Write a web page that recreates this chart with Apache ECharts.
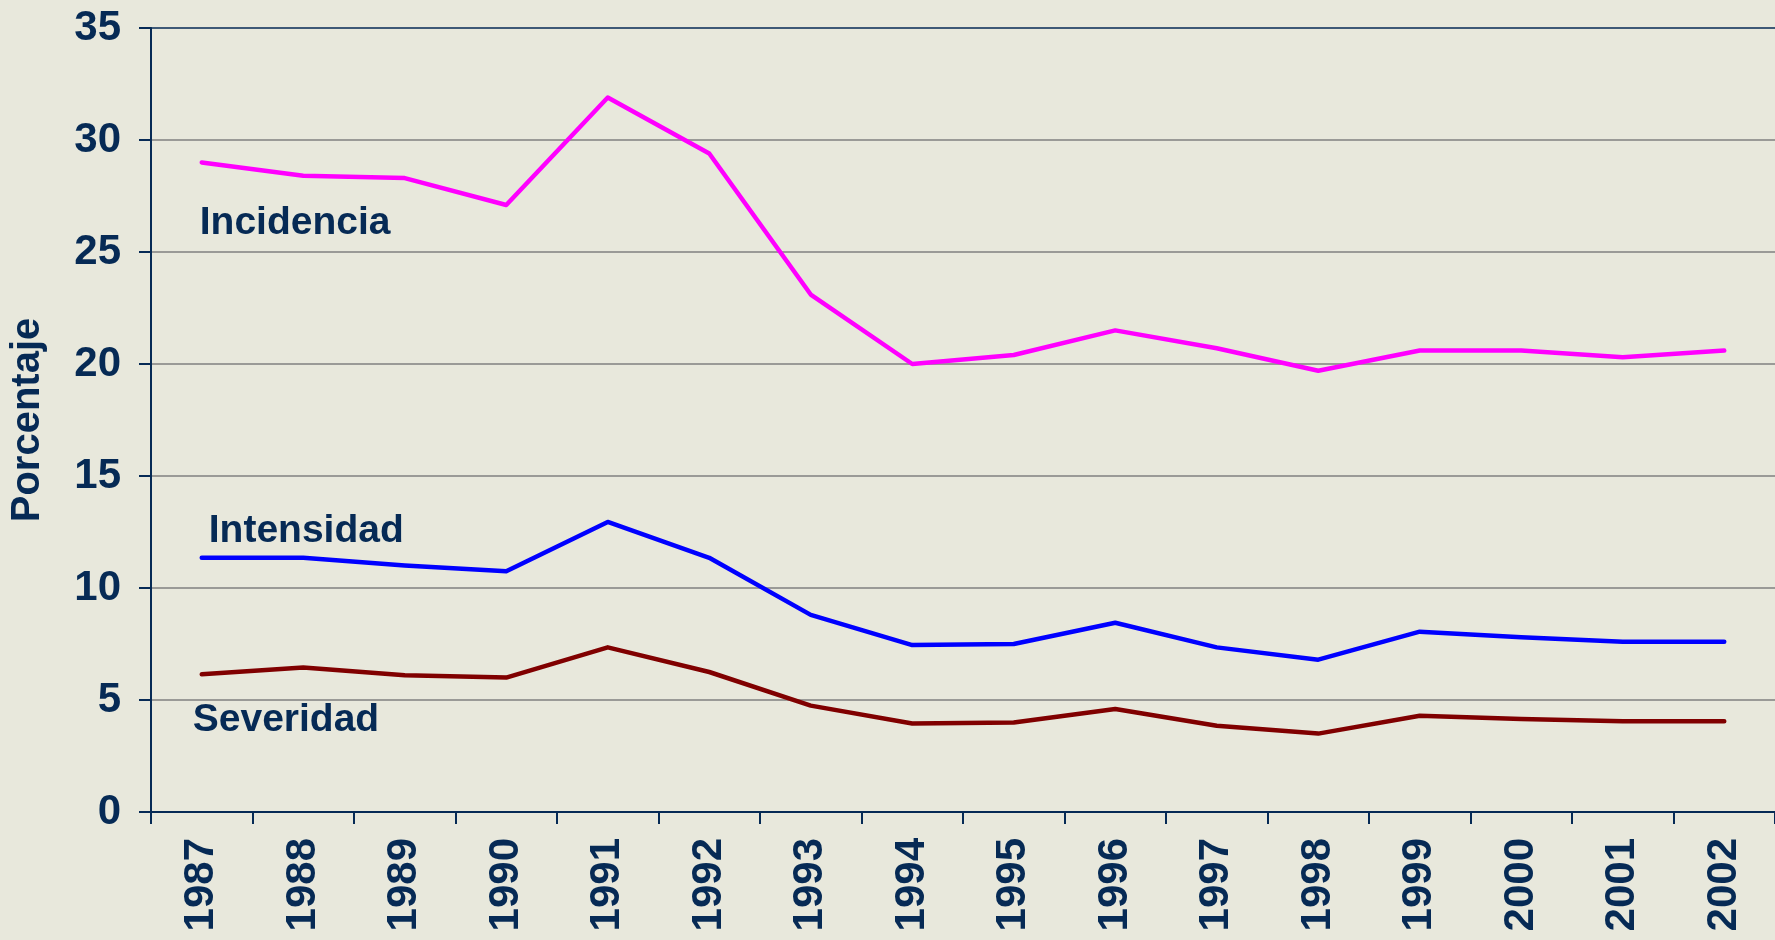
<!DOCTYPE html>
<html>
<head>
  <meta charset="utf-8">
  <script src="https://cdn.jsdelivr.net/npm/echarts@6/dist/echarts.min.js"></script>
  <style>
    html, body { margin: 0; padding: 0; background: #e8e8dc; }
  </style>
</head>
<body>
<div id="main" style="width: 1775px; height: 940px"></div>
<script>
  const years = ['1987', '1988', '1989', '1990', '1991', '1992', '1993', '1994',
    '1995', '1996', '1997', '1998', '1999', '2000', '2001', '2002'];
  const incidencia = [29.0, 28.4, 28.3, 27.1, 31.9, 29.4, 23.1, 20.0, 20.4, 21.5, 20.7, 19.7, 20.6, 20.6, 20.3, 20.6];
  const intensidad = [11.35, 11.35, 11.0, 10.75, 12.95, 11.35, 8.8, 7.45, 7.5, 8.45, 7.35, 6.8, 8.05, 7.8, 7.6, 7.6];
  const severidad = [6.15, 6.45, 6.1, 6.0, 7.35, 6.25, 4.75, 3.95, 4.0, 4.6, 3.85, 3.5, 4.3, 4.15, 4.05, 4.05];

  const navy = '#062a55';
  const font = '"Liberation Sans", Arial, sans-serif';

  // first point carries the series name as a text label
  function withLabel(values, name, offset) {
    return values.map((v, i) => i === 0 ? {
      value: v,
      label: {
        show: true,
        formatter: name,
        position: 'inside',
        align: 'left',
        verticalAlign: 'middle',
        offset: offset,
        color: navy,
        fontSize: 39,
        fontWeight: 'bold',
        fontFamily: font
      }
    } : v);
  }

  function lineSeries(name, values, color, offset) {
    return {
      name: name,
      type: 'line',
      data: withLabel(values, name, offset),
      symbol: 'circle',
      symbolSize: 0,
      showSymbol: true,
      lineStyle: { color: color, width: 4.5, join: 'round', cap: 'round' },
      itemStyle: { color: color },
      animation: false,
      silent: true
    };
  }

  const chart = echarts.init(document.getElementById('main'));
  chart.setOption({
    backgroundColor: '#e8e8dc',
    grid: { left: 151, right: 0, top: 28, bottom: 128 },
    xAxis: {
      type: 'category',
      data: years,
      boundaryGap: true,
      axisLine: { lineStyle: { color: navy, width: 2 } },
      axisTick: { show: true, length: 12, lineStyle: { color: navy, width: 2 } },
      axisLabel: {
        rotate: 90,
        margin: 26,
        color: navy,
        fontSize: 42,
        fontWeight: 'bold',
        fontFamily: font
      }
    },
    yAxis: {
      type: 'value',
      min: 0,
      max: 35,
      interval: 5,
      name: 'Porcentaje',
      nameLocation: 'middle',
      nameGap: 103,
      nameTextStyle: { color: navy, fontSize: 40, fontWeight: 'bold', fontFamily: font },
      axisLine: { show: true, lineStyle: { color: navy, width: 2 } },
      axisTick: { show: true, length: 12, lineStyle: { color: navy, width: 2 } },
      axisLabel: {
        margin: 30,
        color: navy,
        fontSize: 42,
        fontWeight: 'bold',
        fontFamily: font
      },
      splitLine: {
        show: true,
        lineStyle: {
          color: ['#808080', '#808080', '#808080', '#808080', '#808080', '#808080', '#808080', navy],
          width: 1.5
        }
      }
    },
    series: [
      lineSeries('Incidencia', incidencia, '#ff00ff', [-2, 61]),
      lineSeries('Intensidad', intensidad, '#0000ff', [7, -27]),
      lineSeries('Severidad', severidad, '#800000', [-9, 46])
    ]
  });
</script>
</body>
</html>
